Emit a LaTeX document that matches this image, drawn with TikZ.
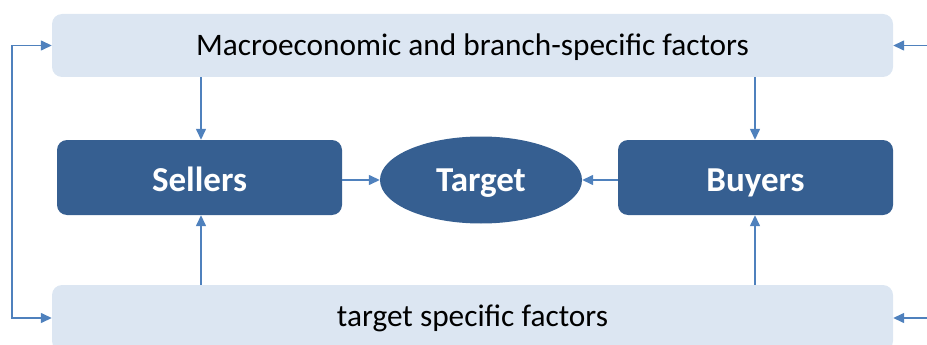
\documentclass[tikz,border=0pt]{standalone}
\usepackage{fontspec}
\setmainfont{Carlito}
\usetikzlibrary{arrows.meta,shapes.geometric}
\definecolor{lightbox}{HTML}{DCE6F2}
\definecolor{darkbox}{HTML}{365F91}
\definecolor{arrowc}{HTML}{4F81BD}
\begin{document}
\begin{tikzpicture}[x=1pt,y=-1pt,
  factorbox/.style={fill=lightbox, rounded corners=10pt, minimum width=841pt, inner sep=0pt, font=\fontsize{31.3}{36}\selectfont, text=black, text depth=0.5pt},
  actorbox/.style={fill=darkbox, rounded corners=10pt, inner sep=0pt, font=\bfseries\fontsize{35}{40}\selectfont, text=white, minimum height=75pt, text height=28pt, text depth=0.4pt},
  conn/.style={draw=arrowc, line width=1.4pt, -{Triangle[length=11pt,width=10pt]}}
]
\useasboundingbox (0,0) rectangle (927,345);
\node[factorbox, minimum height=63pt, text height=21pt] (macro) at (472.5,45.5) {Macroeconomic and branch-specific factors};
\node[factorbox, minimum height=66pt, text height=16.5pt] (tsf) at (472.5,318) {target specific factors};
\node[actorbox, minimum width=285pt] (sellers) at (199.5,177.5) {Sellers};
\node[actorbox, minimum width=275pt] (buyers) at (755.5,177.5) {Buyers};
\node[ellipse, fill=darkbox, minimum width=202pt, minimum height=87pt, inner sep=0pt, text=white, font=\bfseries\fontsize{35}{40}\selectfont, text height=23pt, text depth=0.4pt] (target) at (481,180) {Target};
\coordinate (lt) at (12,45.5);
\coordinate (lb) at (12,318);
\coordinate (rt) at (927,45.5);
\coordinate (rb) at (927,318);
\draw[conn] (macro.south -| 201,0) -- (sellers.north -| 201,0);
\draw[conn] (macro.south -| 755,0) -- (buyers.north -| 755,0);
\draw[conn] (tsf.north -| 201,0) -- (sellers.south -| 201,0);
\draw[conn] (tsf.north -| 755,0) -- (buyers.south -| 755,0);
\draw[conn] (sellers.east |- 0,180) -- (target.west);
\draw[conn] (buyers.west |- 0,180) -- (target.east);
\draw[conn] (lb) -- (lt) -- (macro.west);
\draw[conn] (lt) -- (lb) -- (tsf.west);
\draw[conn] (rt) -- (macro.east);
\draw[conn] (rb) -- (tsf.east);
\end{tikzpicture}
\end{document}
